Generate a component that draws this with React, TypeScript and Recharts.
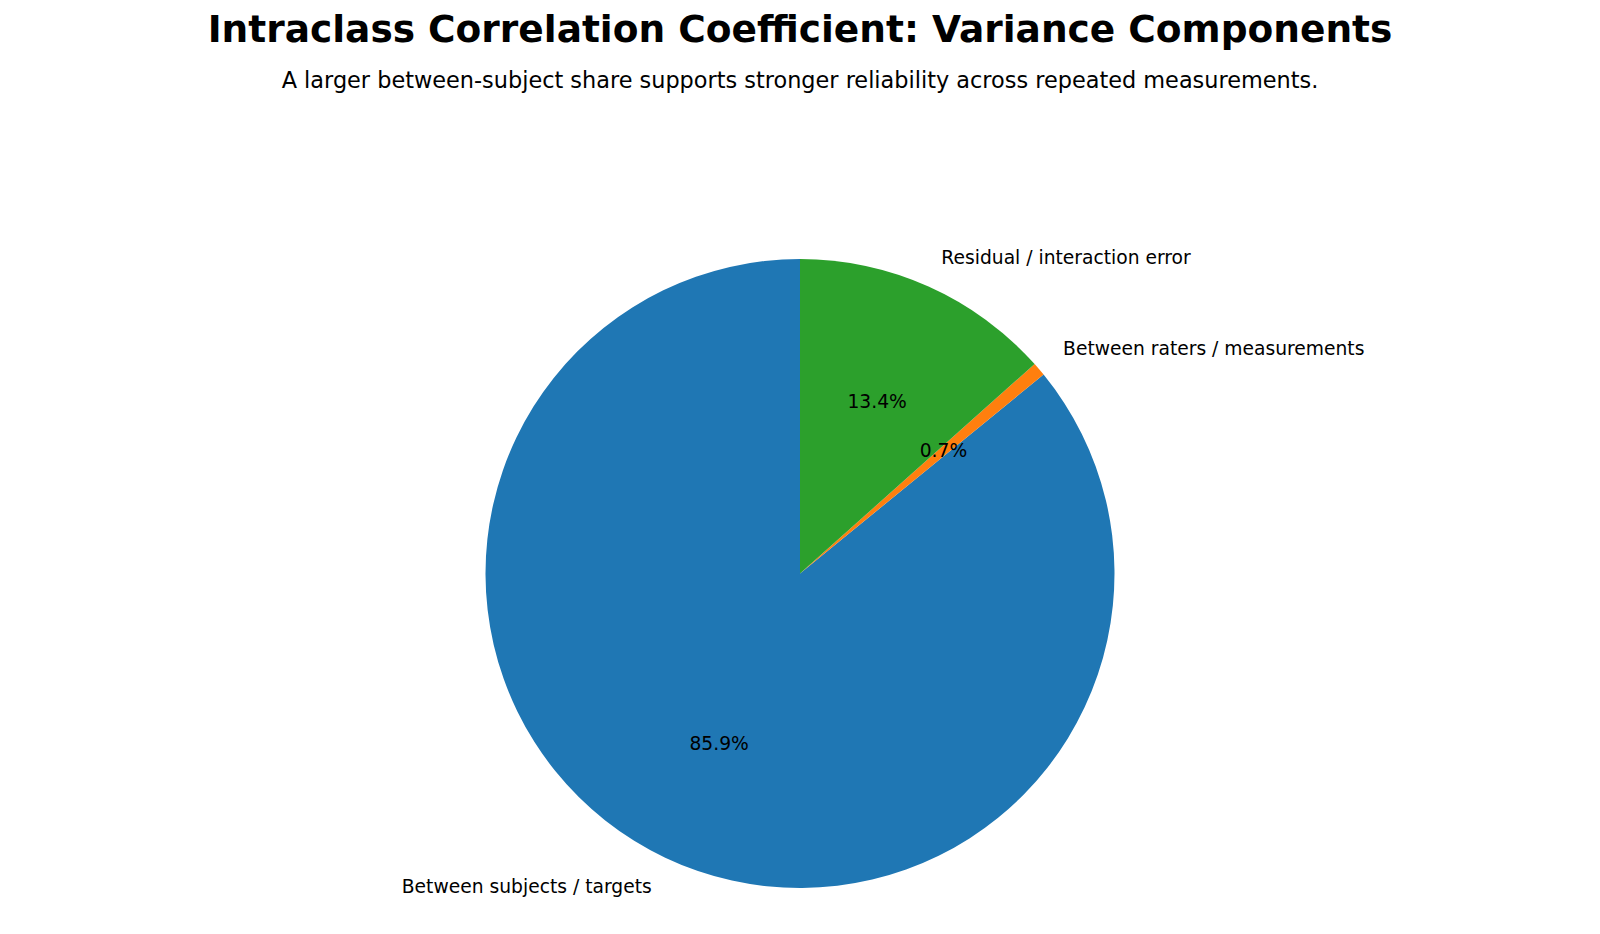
import React from 'react';
import { PieChart, Pie, Cell } from 'recharts';

const components = ['Between subjects / targets', 'Between raters / measurements', 'Residual / interaction error'];
const shares = [85.9, 0.7, 13.4];
const colors = ['#1f77b4', '#ff7f0e', '#2ca02c'];

const RADIAN = Math.PI / 180;
const FONT = '"DejaVu Sans", sans-serif';

const chartData = components.map((name, i) => ({ name, value: shares[i] }));

const renderLabel = (props: any) => {
    const { cx, cy, midAngle, outerRadius, percent, name } = props;
    const cos = Math.cos(-midAngle * RADIAN);
    const sin = Math.sin(-midAngle * RADIAN);
    const ox = cx + outerRadius * 1.1 * cos;
    const oy = cy + outerRadius * 1.1 * sin;
    const ix = cx + outerRadius * 0.6 * cos;
    const iy = cy + outerRadius * 0.6 * sin;
    return (
        <g>
            <text x={ox} y={oy} fill="#000" fontSize={18.7} fontFamily={FONT}
                textAnchor={cos >= 0 ? 'start' : 'end'} dominantBaseline="central">
                {name}
            </text>
            <text x={ix} y={iy} fill="#000" fontSize={18.7} fontFamily={FONT}
                textAnchor="middle" dominantBaseline="central">
                {(percent * 100).toFixed(1)}%
            </text>
        </g>
    );
};

export default function App() {
    return (
        <div style={{ position: 'absolute', left: 0, top: 0, width: 1600, height: 934, background: '#fff' }}>
            <svg width={1600} height={110} style={{ position: 'absolute', left: 0, top: 0 }}>
                <text x={800} y={29} textAnchor="middle" dominantBaseline="central"
                    fontFamily={FONT} fontWeight="bold" fontSize={37.5} fill="#000">
                    Intraclass Correlation Coefficient: Variance Components
                </text>
                <text x={800} y={80} textAnchor="middle" dominantBaseline="central"
                    fontFamily={FONT} fontSize={22.4} fill="#000">
                    A larger between-subject share supports stronger reliability across repeated measurements.
                </text>
            </svg>
            <div style={{ position: 'absolute', left: 0, top: 0 }}>
                <PieChart width={1600} height={934} margin={{ top: 0, right: 0, bottom: 0, left: 0 }}>
                    <Pie
                        data={chartData}
                        dataKey="value"
                        nameKey="name"
                        cx={800}
                        cy={573.5}
                        outerRadius={314.5}
                        startAngle={90}
                        endAngle={450}
                        stroke="none"
                        label={renderLabel}
                        labelLine={false}
                        isAnimationActive={false}
                    >
                        {chartData.map((d, i) => (
                            <Cell key={d.name} fill={colors[i]} />
                        ))}
                    </Pie>
                </PieChart>
            </div>
        </div>
    );
}
